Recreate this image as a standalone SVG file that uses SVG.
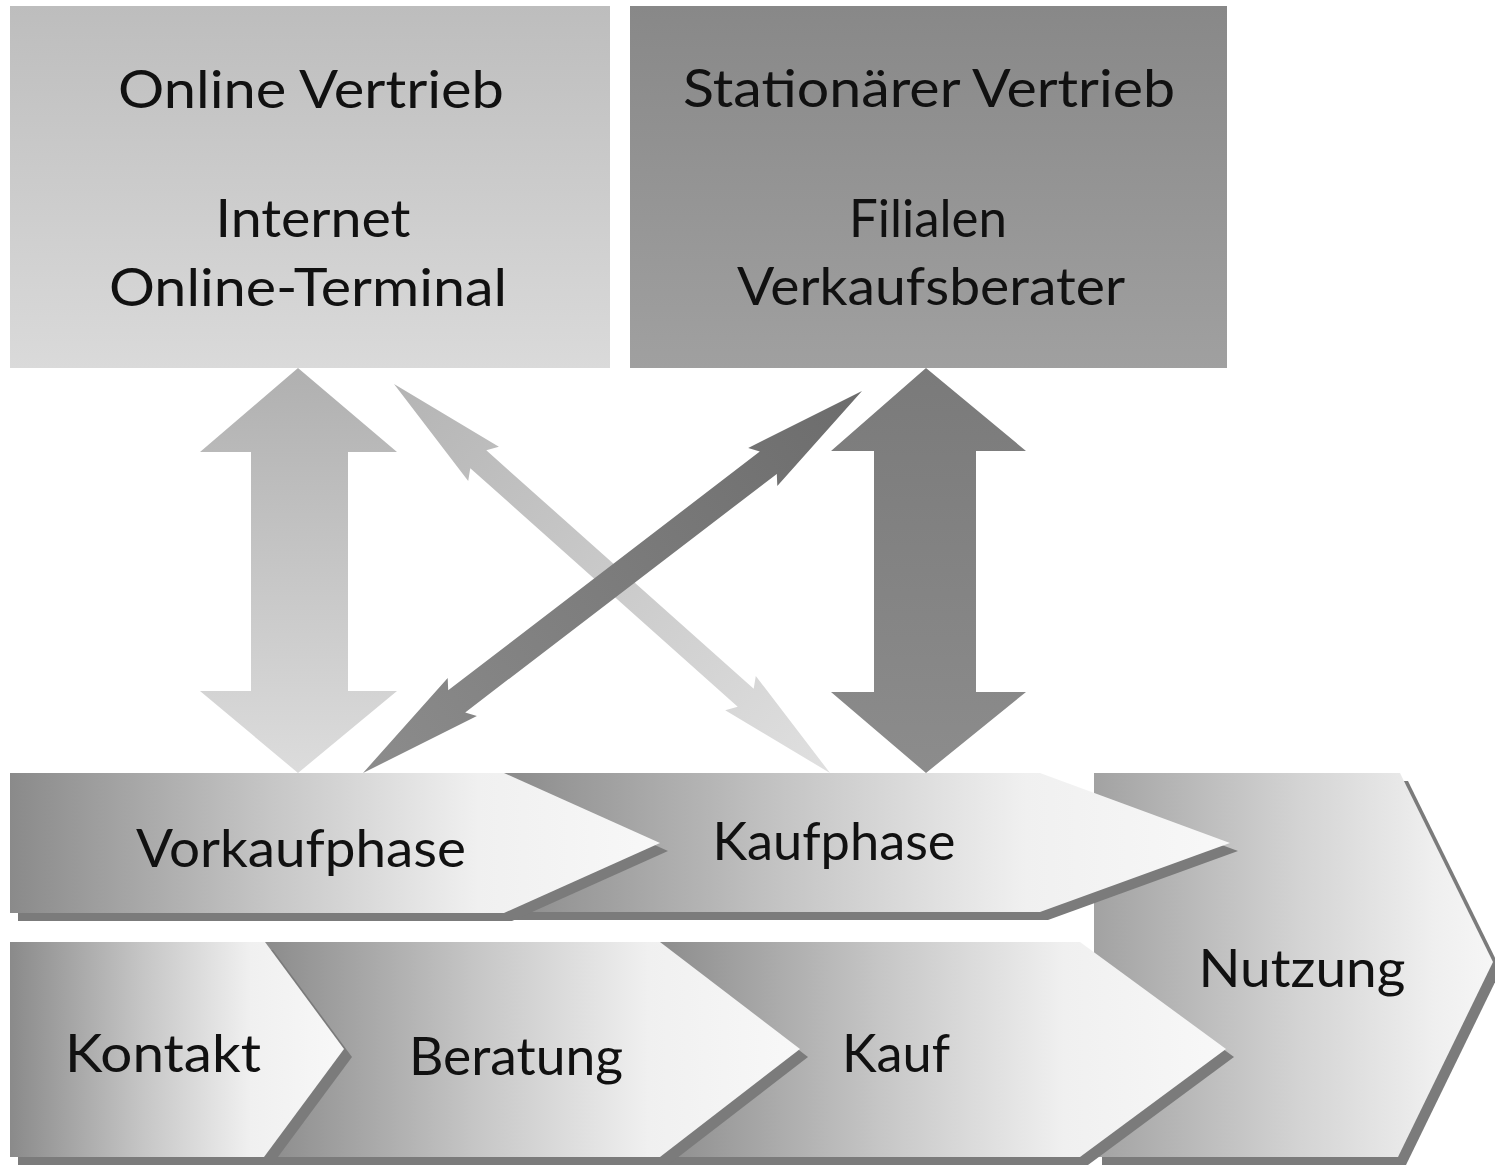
<svg xmlns="http://www.w3.org/2000/svg" width="1495" height="1167" viewBox="0 0 1495 1167">
<defs>
<linearGradient id="gBox1" x1="0" y1="0" x2="0" y2="1"><stop offset="0" stop-color="#bdbdbd"/><stop offset="1" stop-color="#dadada"/></linearGradient>
<linearGradient id="gBox2" x1="0" y1="0" x2="0" y2="1"><stop offset="0" stop-color="#888888"/><stop offset="1" stop-color="#a0a0a0"/></linearGradient>
<linearGradient id="gChev" x1="0" y1="0" x2="1" y2="0"><stop offset="0" stop-color="#8a8a8a"/><stop offset="0.4" stop-color="#c6c6c6"/><stop offset="0.72" stop-color="#f0f0f0"/><stop offset="1" stop-color="#f8f8f8"/></linearGradient>
<linearGradient id="gNutz" x1="0" y1="0" x2="1" y2="0"><stop offset="0" stop-color="#a2a2a2"/><stop offset="0.5" stop-color="#d2d2d2"/><stop offset="0.85" stop-color="#efefef"/><stop offset="1" stop-color="#f6f6f6"/></linearGradient>
<linearGradient id="gVL" x1="0" y1="0" x2="0" y2="1"><stop offset="0" stop-color="#b0b0b0"/><stop offset="1" stop-color="#dcdcdc"/></linearGradient>
<linearGradient id="gVR" x1="0" y1="0" x2="0" y2="1"><stop offset="0" stop-color="#7a7a7a"/><stop offset="1" stop-color="#8c8c8c"/></linearGradient>
<linearGradient id="gDL" gradientUnits="userSpaceOnUse" x1="394" y1="384" x2="830" y2="773"><stop offset="0" stop-color="#b4b4b4"/><stop offset="1" stop-color="#e0e0e0"/></linearGradient>
<linearGradient id="gDD" gradientUnits="userSpaceOnUse" x1="862" y1="391" x2="363" y2="773"><stop offset="0" stop-color="#6c6c6c"/><stop offset="1" stop-color="#8c8c8c"/></linearGradient>
</defs>
<style>
text{font-family:Lato,"Liberation Sans",sans-serif;font-size:53px;fill:#111;}
.sh{fill:#7b7b7b;}
</style>
<rect width="1495" height="1167" fill="#ffffff"/>

<g id="online-vertrieb">
<rect x="10" y="6" width="600" height="362" fill="url(#gBox1)"/>
<text x="311" y="108" text-anchor="middle" textLength="386" lengthAdjust="spacingAndGlyphs">Online Vertrieb</text>
<text x="313" y="237" text-anchor="middle" textLength="195" lengthAdjust="spacingAndGlyphs">Internet</text>
<text x="308" y="306" text-anchor="middle" textLength="398" lengthAdjust="spacingAndGlyphs">Online-Terminal</text>
</g>

<g id="stationaerer-vertrieb">
<rect x="630" y="6" width="597" height="362" fill="url(#gBox2)"/>
<text x="929" y="107" text-anchor="middle" textLength="492" lengthAdjust="spacingAndGlyphs">Stationärer Vertrieb</text>
<text x="928" y="237" text-anchor="middle" textLength="158" lengthAdjust="spacingAndGlyphs">Filialen</text>
<text x="931" y="305" text-anchor="middle" textLength="388" lengthAdjust="spacingAndGlyphs">Verkaufsberater</text>
</g>

<g id="connectors">
<polygon fill="url(#gVL)" points="298,368 397,452 348,452 348,691 397,691 298,773 200,691 251,691 251,452 200,452"/>
<polygon fill="url(#gVR)" points="926,368 1026,451 976,451 976,692 1026,692 926,773 831,692 874,692 874,451 831,451"/>
<polygon fill="url(#gDL)" points="394,384 468.2,481.1 470.3,468.2 737.7,706.7 725.2,710.3 830,773 755.8,675.9 753.7,688.8 486.3,450.3 498.9,446.7"/>
<polygon fill="url(#gDD)" points="862,391 777.3,486.0 776.8,473.9 465.2,712.4 476.9,716.1 363,773 447.7,677.9 448.2,690.2 759.8,451.6 748.2,447.9"/>
</g>

<g id="nutzung">
<polygon class="sh" points="1102,781 1408,781 1501,970 1406,1165 1102,1165"/>
<polygon fill="url(#gNutz)" points="1094,773 1400,773 1493,962 1398,1157 1094,1157"/>
<text x="1302" y="987" text-anchor="middle" textLength="207" lengthAdjust="spacingAndGlyphs">Nutzung</text>
</g>

<g id="kaufphase">
<polygon class="sh" points="508,781 1048,781 1238,851 1048,920 508,920"/>
<polygon fill="url(#gChev)" points="500,773 1040,773 1230,843 1040,912 500,912"/>
<text x="834" y="860" text-anchor="middle" textLength="243" lengthAdjust="spacingAndGlyphs">Kaufphase</text>
</g>

<g id="vorkaufphase">
<polygon class="sh" points="18,781 512,781 668,851 512,921 18,921"/>
<polygon fill="url(#gChev)" points="10,773 504,773 660,843 504,913 10,913"/>
<text x="301" y="867" text-anchor="middle" textLength="330" lengthAdjust="spacingAndGlyphs">Vorkaufphase</text>
</g>

<g id="kauf">
<polygon class="sh" points="658,950 1088,950 1234,1057 1088,1165 658,1165"/>
<polygon fill="url(#gChev)" points="650,942 1080,942 1226,1049 1080,1157 650,1157"/>
<text x="896" y="1072" text-anchor="middle" textLength="108" lengthAdjust="spacingAndGlyphs">Kauf</text>
</g>

<g id="beratung">
<polygon class="sh" points="268,950 668,950 808,1057 668,1165 268,1165"/>
<polygon fill="url(#gChev)" points="260,942 660,942 800,1049 660,1157 260,1157"/>
<text x="516" y="1075" text-anchor="middle" textLength="214" lengthAdjust="spacingAndGlyphs">Beratung</text>
</g>

<g id="kontakt">
<polygon class="sh" points="18,950 273,950 352,1057 272,1165 18,1165"/>
<polygon fill="url(#gChev)" points="10,942 265,942 344,1049 264,1157 10,1157"/>
<text x="163" y="1072" text-anchor="middle" textLength="196" lengthAdjust="spacingAndGlyphs">Kontakt</text>
</g>
</svg>
